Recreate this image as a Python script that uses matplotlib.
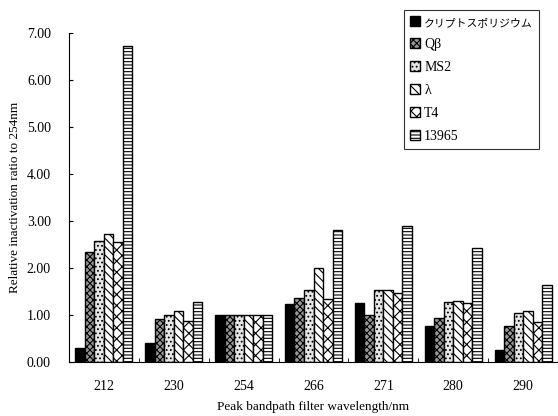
import numpy as np
from matplotlib import pyplot as plt
from matplotlib.ticker import FormatStrFormatter, FixedLocator

plt.rcParams['font.family'] = ['Liberation Serif', 'Noto Sans CJK JP']
plt.rcParams['hatch.linewidth'] = 0.8

wavelengths = ['212', '230', '254', '266', '271', '280', '290']
series = ['クリプトスポリジウム', 'Qβ', 'MS2', 'λ', 'T4', '13965']

crypto = [0.30, 0.40, 1.00, 1.23, 1.26, 0.77, 0.26]
qbeta = [2.34, 0.91, 1.00, 1.37, 1.00, 0.94, 0.77]
ms2 = [2.57, 1.00, 1.00, 1.53, 1.53, 1.28, 1.04]
lam = [2.72, 1.09, 1.00, 2.00, 1.53, 1.30, 1.08]
t4 = [2.55, 0.87, 1.00, 1.34, 1.47, 1.25, 0.85]
s13965 = [6.72, 1.27, 1.00, 2.81, 2.89, 2.43, 1.64]

values = [crypto, qbeta, ms2, lam, t4, s13965]
faces = ['black', '#9a9a9a', '#e6e6e6', 'white', 'white', 'white']
hatches = [None, 'xxxxx', '....', '\\\\\\\\', 'xxx', '-----']


def main():
    fig = plt.figure(figsize=(5.58, 4.16), dpi=100)
    ax = fig.add_axes([69 / 558, 54 / 416, 489 / 558, 329 / 416])

    x = np.arange(len(wavelengths))
    width = 0.136
    for i, (vals, name) in enumerate(zip(values, series)):
        ax.bar(
            x + (i - 2.5) * width, vals, width,
            color=faces[i], edgecolor='black', linewidth=1.0,
            hatch=hatches[i], label=name,
        )

    ax.set_xlim(-0.5, len(wavelengths) - 0.5)
    ax.set_ylim(0, 7)
    ax.set_yticks(np.arange(0, 8, 1))
    ax.yaxis.set_major_formatter(FormatStrFormatter('%.2f'))
    ax.set_xticks(x)
    ax.set_xticklabels(wavelengths)
    ax.xaxis.set_minor_locator(FixedLocator(np.arange(-0.5, len(wavelengths), 1)))
    ax.tick_params(axis='x', which='major', length=0, pad=13, labelsize=10)
    ax.tick_params(axis='x', which='minor', direction='in', length=3)
    ax.tick_params(axis='y', direction='in', length=3, pad=13, labelsize=10)

    for side in ['top', 'right']:
        ax.spines[side].set_visible(False)

    ax.set_ylabel('Relative inactivation ratio to 254nm', fontsize=9.5, labelpad=4)
    ax.set_xlabel('Peak bandpath filter wavelength/nm', fontsize=9.5, labelpad=6)

    leg = ax.legend(
        loc='upper left', bbox_to_anchor=(404 / 558, 1 - 10 / 416),
        bbox_transform=fig.transFigure, borderaxespad=0, fancybox=False,
        fontsize=10, labelspacing=0.72, handlelength=0.7, handleheight=0.7,
        handletextpad=0.3, borderpad=0.45, edgecolor='black',
    )
    leg.get_texts()[0].set_fontsize(7.8)
    leg.get_frame().set_linewidth(0.8)

    fig.savefig('out.png', dpi=100)


if __name__ == "__main__":
    main()
